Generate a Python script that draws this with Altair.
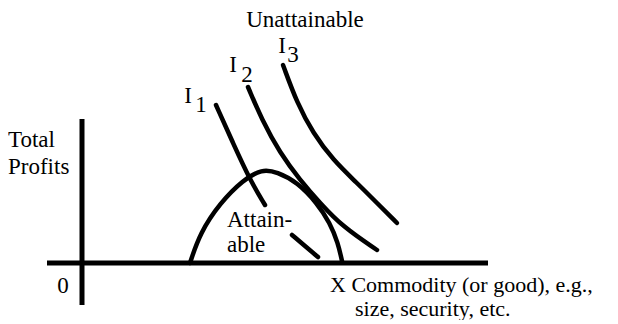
import altair as alt
import pandas as pd

# ---- curves (x = commodity, y = total profits) ----
hump_x = [27.0, 29.5, 34.5, 40.25, 45.0, 48.75, 53.75, 58.75, 62.0, 64.0, 65.0]
hump_y = [0.0, 7.5, 15.0, 20.75, 23.5, 22.75, 20.25, 15.0, 10.0, 5.0, 0.5]

i1_upper_x = [33.5, 37.75, 42.0, 45.75]
i1_upper_y = [39.5, 30.0, 20.75, 14.5]
i1_lower_x = [52.5, 55.75, 59.0]
i1_lower_y = [7.0, 4.25, 1.5]

i2_x = [41.5, 45.0, 49.5, 54.5, 59.5, 65.25, 73.75]
i2_y = [44.0, 35.75, 27.5, 20.75, 15.0, 9.0, 3.25]

i3_x = [50.25, 53.75, 57.75, 62.75, 68.75, 73.75, 78.75]
i3_y = [49.5, 40.0, 32.5, 25.75, 20.0, 15.0, 10.0]

# ---- axes extents ----
xaxis_x = [-8.75, 101.5]
yaxis_y = [-10.5, 36.0]

# ---- labels ----
left_texts = ["Total", "Profits", "Attain-", "able"]
left_x = [-18.5, -18.5, 36.25, 36.25]
left_y = [29.0, 22.25, 9.0, 2.75]

xlabel_texts = ["X Commodity (or good), e.g.,", "size, security, etc."]
xlabel_x = [62.0, 68.25]
xlabel_y = [-7.25, -13.125]

center_texts = ["Unattainable", "I", "1", "I", "2", "I", "3", "0"]
center_x = [55.75, 26.5, 29.75, 37.75, 41.25, 50.0, 52.75, -4.75]
center_y = [59.0, 40.0, 37.75, 47.75, 45.25, 52.5, 50.25, -7.5]

XDOM = [-18.5, 132.0]
YDOM = [-13.25, 63.75]
FONT = "Liberation Serif"
FS = 23

rows = []
for name, xs, ys in [("hump", hump_x, hump_y), ("i1a", i1_upper_x, i1_upper_y),
                     ("i1b", i1_lower_x, i1_lower_y), ("i2", i2_x, i2_y),
                     ("i3", i3_x, i3_y)]:
    for k, (a, b) in enumerate(zip(xs, ys)):
        rows.append({"curve": name, "x": a, "y": b, "o": k})
curves = pd.DataFrame(rows)

xs = alt.Scale(domain=XDOM, nice=False, zero=False)
ys = alt.Scale(domain=YDOM, nice=False, zero=False)

lines = alt.Chart(curves).mark_line(
    color="black", strokeWidth=4.5, strokeCap="round", interpolate="basis"
).encode(
    x=alt.X("x:Q", scale=xs, axis=None),
    y=alt.Y("y:Q", scale=ys, axis=None),
    detail="curve:N",
    order="o:Q",
)

hx = pd.DataFrame({"x": [xaxis_x[0]], "x2": [xaxis_x[1]], "y": [0.0]})
haxis = alt.Chart(hx).mark_rule(color="black", strokeWidth=5).encode(
    x=alt.X("x:Q", scale=xs, axis=None), x2="x2:Q",
    y=alt.Y("y:Q", scale=ys, axis=None),
)
vy = pd.DataFrame({"x": [0.0], "y": [yaxis_y[0]], "y2": [yaxis_y[1]]})
vaxis = alt.Chart(vy).mark_rule(color="black", strokeWidth=5).encode(
    x=alt.X("x:Q", scale=xs, axis=None),
    y=alt.Y("y:Q", scale=ys, axis=None), y2="y2:Q",
)


def text_layer(texts, xv, yv, align, size):
    df = pd.DataFrame({"t": texts, "x": xv, "y": yv})
    return alt.Chart(df).mark_text(
        align=align, baseline="alphabetic", font=FONT, fontSize=size, color="black"
    ).encode(
        x=alt.X("x:Q", scale=xs, axis=None),
        y=alt.Y("y:Q", scale=ys, axis=None),
        text="t:N",
    )


ltext = text_layer(left_texts, left_x, left_y, "left", FS)
xtext = text_layer(xlabel_texts, xlabel_x, xlabel_y, "left", 22)
ctext = text_layer(center_texts, center_x, center_y, "center", FS)

chart = alt.layer(haxis, vaxis, lines, ltext, xtext, ctext).properties(
    width=602, height=308, padding=0, background="white"
).configure_view(strokeWidth=0)

chart.save("out.html", embed_options={"renderer": "svg", "actions": False})
